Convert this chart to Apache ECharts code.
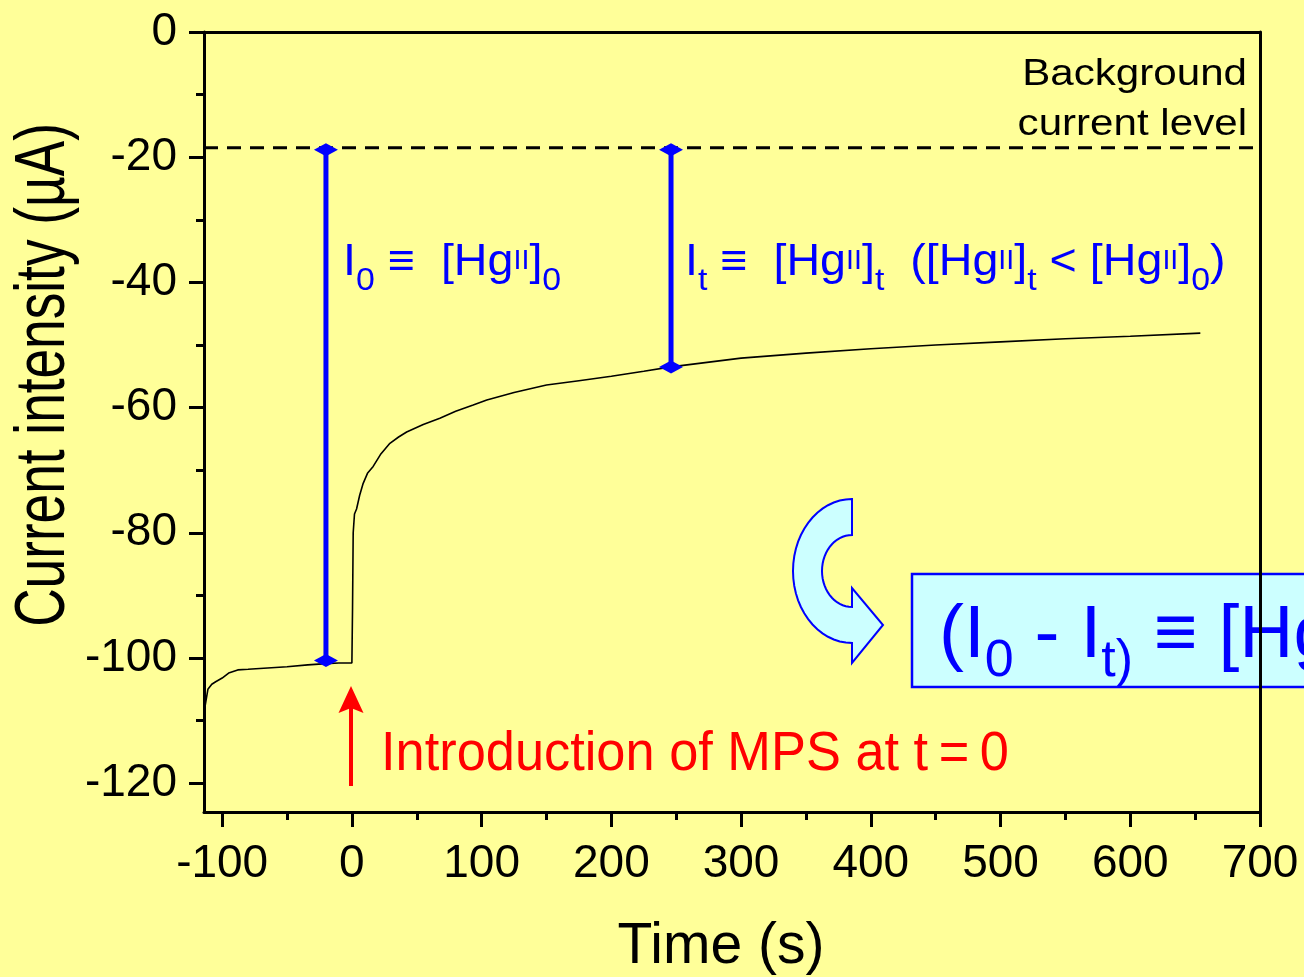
<!DOCTYPE html>
<html>
<head>
<meta charset="utf-8">
<script src="https://cdn.jsdelivr.net/npm/echarts@6/dist/echarts.min.js"></script>
<style>
html,body{margin:0;padding:0;background:#ffff99;}
#chart{width:1304px;height:977px;}
</style>
</head>
<body>
<div id="chart"></div>
<script>
// ---- data ----
const timeS = [-114, -113, -111, -108, -105, -100, -95, -88, -80, -65, -50, -34, -20, -10, 0,
  0.5, 1, 2, 3.6, 6, 8.7, 12, 16.4, 22, 29.3, 36, 42.2, 55, 67.8, 80, 93.5, 104,
  125, 150, 175, 200, 225, 246, 300, 350, 400, 450, 500, 550, 600, 654];
const currentUA = [-108.5, -107.5, -105, -104.2, -103.8, -103.2, -102.4, -101.9, -101.8, -101.6, -101.4, -101.1, -100.9, -100.8, -100.8,
  -92, -80, -77, -76.2, -74, -72.1, -70.5, -69.4, -67.5, -65.7, -64.7, -63.9, -62.7, -61.7, -60.6, -59.6, -58.8,
  -57.6, -56.4, -55.7, -55, -54.2, -53.5, -52.1, -51.3, -50.6, -50.0, -49.5, -49.0, -48.6, -48.1];

const i0Time = [-20, -20];
const i0Current = [-18.8, -100.4];
const itTime = [246, 246];
const itCurrent = [-18.8, -53.5];
const backgroundTime = [-114, 700];
const backgroundCurrent = [-18.5, -18.5];

const xTickValues = [-100, 0, 100, 200, 300, 400, 500, 600, 700];
const xMinorTicks = [-50, 50, 150, 250, 350, 450, 550, 650];
const yTickValues = [-120, -100, -80, -60, -40, -20, 0];
const yMinorTicks = [-110, -90, -70, -50, -30, -10];

const X_MIN = -114, X_MAX = 700, Y_MIN = -124.6, Y_MAX = 0;

// ---- chart ----
const FONT = '"Liberation Sans", Arial, Helvetica, sans-serif';
const BLUE = '#0000ff';
const zip = (a, b) => a.map((v, i) => [v, b[i]]);

const chart = echarts.init(document.getElementById('chart'));

function xAxisBase(extra) {
  return Object.assign({
    type: 'value', min: X_MIN, max: X_MAX,
    splitLine: { show: false },
    axisLine: { show: false, onZero: false },
    axisTick: { show: false },
    axisLabel: { show: false }
  }, extra);
}
function yAxisBase(extra) {
  return Object.assign({
    type: 'value', min: Y_MIN, max: Y_MAX,
    splitLine: { show: false },
    axisLine: { show: false, onZero: false },
    axisTick: { show: false },
    axisLabel: { show: false }
  }, extra);
}
const frameLine = { show: true, onZero: false, lineStyle: { color: '#000', width: 3 } };

const blueText = (size) => ({ fontSize: size, fontFamily: FONT, fill: BLUE, verticalAlign: 'top' });

function hgRich(main, sub, subPad, sup, supPad) {
  return {
    m: blueText(main),
    s: Object.assign(blueText(sub), { padding: [subPad, 0, 0, 0] }),
    p: Object.assign(blueText(sup), { padding: [supPad, 0, 0, 0] })
  };
}

// curved (U-turn) arrow outline, in pixels
function curvedArrowPoints() {
  const cx = 852, cy = 571, pts = [];
  for (let a = 270; a >= 90; a -= 6) {
    const r = a * Math.PI / 180;
    pts.push([cx + 59 * Math.cos(r), cy + 72 * Math.sin(r)]);
  }
  pts.push([852, 663], [883, 625], [852, 588]);
  for (let a = 90; a <= 270; a += 6) {
    const r = a * Math.PI / 180;
    pts.push([cx + 30 * Math.cos(r), cy + 36 * Math.sin(r)]);
  }
  return pts;
}

const option = {
  backgroundColor: '#ffff99',
  animation: false,
  grid: { left: 204, right: 44, top: 32, bottom: 165, containLabel: false },
  xAxis: [
    xAxisBase({
      position: 'bottom',
      axisLine: frameLine,
      axisTick: { show: true, customValues: xTickValues, length: 15, lineStyle: { color: '#000', width: 3 } },
      axisLabel: { show: true, customValues: xTickValues, fontSize: 46, color: '#000', fontFamily: FONT, margin: 29 }
    }),
    xAxisBase({
      position: 'bottom',
      axisTick: { show: true, customValues: xMinorTicks, length: 8, lineStyle: { color: '#000', width: 3 } }
    }),
    xAxisBase({
      position: 'top',
      axisLine: frameLine
    })
  ],
  yAxis: [
    yAxisBase({
      position: 'left',
      axisLine: frameLine,
      axisTick: { show: true, customValues: yTickValues, length: 15, lineStyle: { color: '#000', width: 3 } },
      axisLabel: { show: true, customValues: yTickValues, fontSize: 46, color: '#000', fontFamily: FONT, margin: 27 }
    }),
    yAxisBase({
      position: 'left',
      axisTick: { show: true, customValues: yMinorTicks, length: 8, lineStyle: { color: '#000', width: 3 } }
    }),
    yAxisBase({
      position: 'right',
      axisLine: frameLine
    })
  ],
  series: [
    {
      name: 'Background', type: 'line', data: zip(backgroundTime, backgroundCurrent),
      showSymbol: false, lineStyle: { color: '#000', width: 3, type: [14, 9] }, z: 2
    },
    {
      name: 'Current', type: 'line', data: zip(timeS, currentUA),
      showSymbol: false, lineStyle: { color: '#000', width: 1.6 }, z: 3
    },
    {
      name: 'I0', type: 'line', data: zip(i0Time, i0Current),
      symbol: 'diamond', symbolSize: [24, 13], showSymbol: true,
      itemStyle: { color: BLUE }, lineStyle: { color: BLUE, width: 5 }, z: 4
    },
    {
      name: 'It', type: 'line', data: zip(itTime, itCurrent),
      symbol: 'diamond', symbolSize: [24, 13], showSymbol: true,
      itemStyle: { color: BLUE }, lineStyle: { color: BLUE, width: 5 }, z: 4
    }
  ],
  graphic: [
    {
      type: 'text', x: 1247, y: 50, scaleX: 1.17,
      style: { text: 'Background\ncurrent level', fontSize: 36, fontFamily: FONT, fill: '#000',
        align: 'right', verticalAlign: 'top', lineHeight: 50 }
    },
    {
      type: 'text', x: 343, y: 241, scaleX: 1.06,
      style: {
        text: '{m|I}{s|0}{m| ≡  [Hg}{p|II}{m|]}{s|0}',
        rich: hgRich(44, 32, 24, 27, 7)
      }
    },
    {
      type: 'text', x: 685, y: 241, scaleX: 1.06,
      style: {
        text: '{m|I}{s|t}{m| ≡  [Hg}{p|II}{m|]}{s|t}{m|  ([Hg}{p|II}{m|]}{s|t}{m| < [Hg}{p|II}{m|]}{s|0}{m|)}',
        rich: hgRich(44, 32, 24, 27, 7)
      }
    },
    {
      type: 'polygon',
      shape: { points: curvedArrowPoints() },
      style: { fill: '#ccffff', stroke: BLUE, lineWidth: 2 }
    },
    {
      type: 'rect', shape: { x: 912, y: 574, width: 420, height: 113 },
      style: { fill: '#ccffff', stroke: BLUE, lineWidth: 2.5 }
    },
    {
      type: 'text', x: 939, y: 599,
      style: {
        text: '{m|(I}{s|0}{m| - I}{s|t)}{m| ≡ [Hg}',
        rich: hgRich(75, 52, 37, 34, 16)
      }
    },
    {
      type: 'line', shape: { x1: 351, y1: 786, x2: 351, y2: 700 },
      style: { stroke: '#ff0000', lineWidth: 4 }
    },
    {
      type: 'polygon', shape: { points: [[351, 686], [338.5, 713], [351, 708], [363.5, 713]] },
      style: { fill: '#ff0000' }
    },
    {
      type: 'text', x: 381, y: 755, scaleX: 0.935,
      style: { text: 'Introduction of MPS at t\u2009=\u20090', fontSize: 56, fontFamily: FONT, fill: '#ff0000',
        align: 'left', verticalAlign: 'middle' }
    },
    {
      type: 'text', x: 721, y: 947,
      style: { text: 'Time (s)', fontSize: 57, fontFamily: FONT, fill: '#000', align: 'center', verticalAlign: 'middle' }
    },
    {
      type: 'text', x: 45, y: 375, rotation: Math.PI / 2, scaleX: 0.76,
      style: { text: 'Current intensity (µA)', fontSize: 70, fontFamily: FONT, fill: '#000', align: 'center', verticalAlign: 'middle' }
    }
  ]
};
chart.setOption(option);
</script>
</body>
</html>
